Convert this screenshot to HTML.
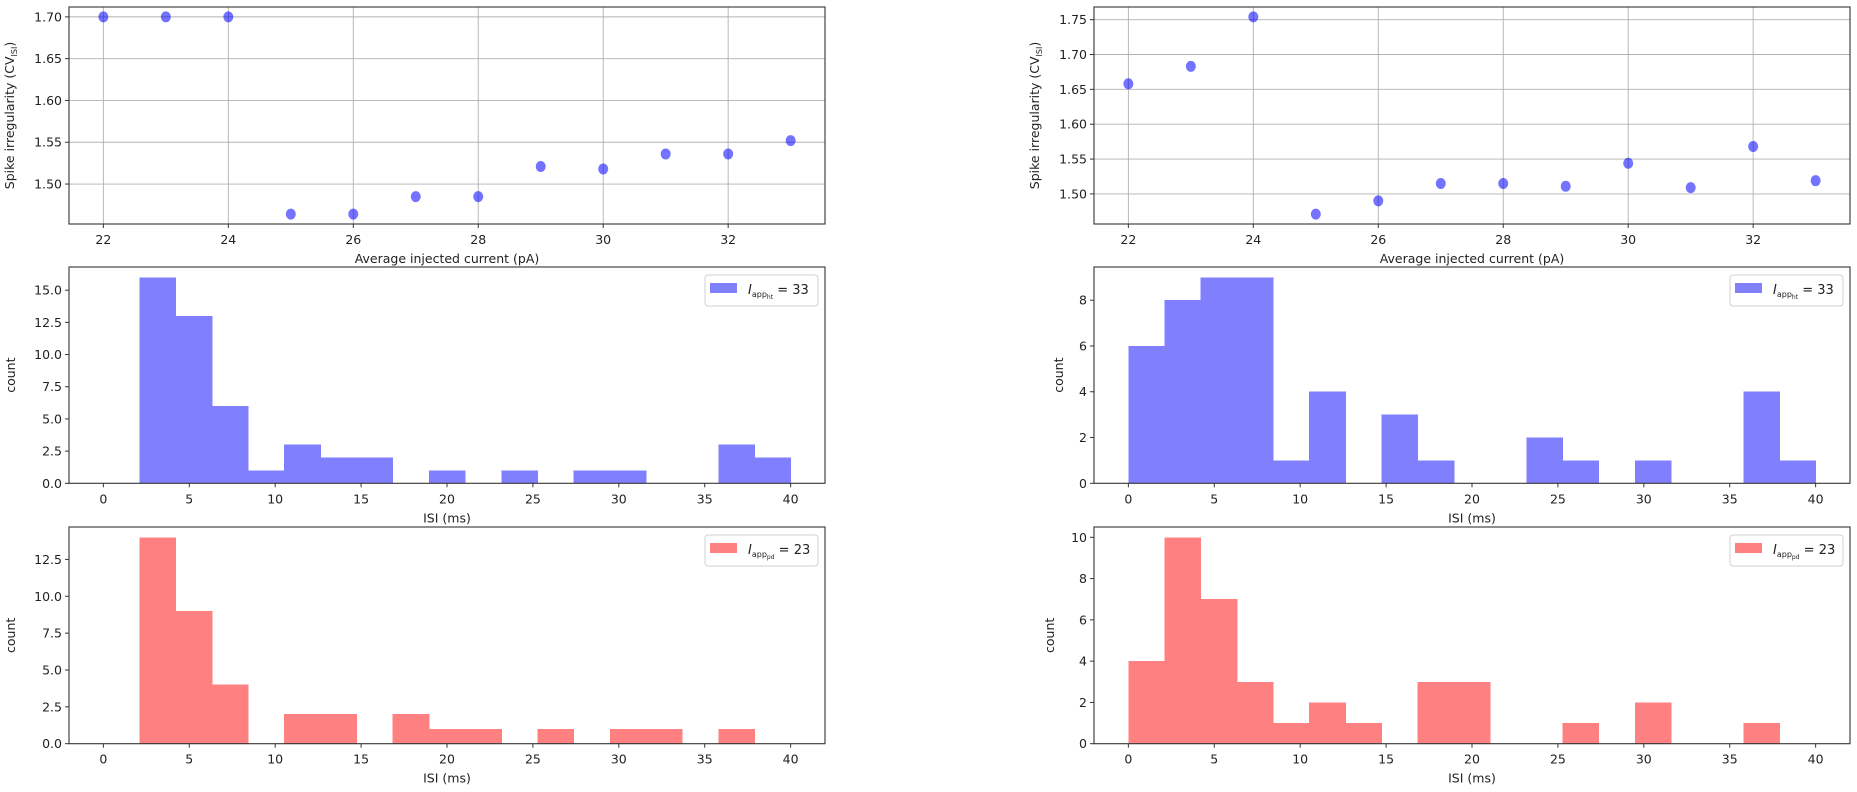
<!DOCTYPE html>
<html><head><meta charset="utf-8"><style>
html,body{margin:0;padding:0;background:#fff;}
svg{display:block;font-family:"DejaVu Sans","Liberation Sans",sans-serif;}
rect.bar{shape-rendering:crispEdges;}
</style></head><body>
<svg id="fig" width="1857" height="792" viewBox="0 0 1857 792" xmlns="http://www.w3.org/2000/svg"></svg>
<script>
const currents = [22,23,24,25,26,27,28,29,30,31,32,33];
const cvLeft = [1.70,1.70,1.70,1.464,1.464,1.485,1.485,1.521,1.518,1.536,1.536,1.552];
const cvRight = [1.658,1.683,1.754,1.471,1.490,1.515,1.515,1.511,1.544,1.509,1.568,1.519];
const histBlueLeft = [0,16,13,6,1,3,2,2,0,1,0,1,0,1,1,0,0,3,2];
const histRedLeft = [0,14,9,4,0,2,2,0,2,1,1,0,1,0,1,1,0,1,0];
const histBlueRight = [6,8,9,9,1,4,0,3,1,0,0,2,1,0,1,0,0,4,1];
const histRedRight = [4,10,7,3,1,2,1,0,3,3,0,0,1,0,2,0,0,1,0];
const binRange = [0,40];
const xTicksScatter = [22,24,26,28,30,32];
const yTicksLeftCV = [1.50,1.55,1.60,1.65,1.70];
const yTicksRightCV = [1.50,1.55,1.60,1.65,1.70,1.75];
const xTicksISI = [0,5,10,15,20,25,30,35,40];
const yTicksBL = [0,2.5,5,7.5,10,12.5,15];
const yTicksRL = [0,2.5,5,7.5,10,12.5];
const yTicksBR = [0,2,4,6,8];
const yTicksRR = [0,2,4,6,8,10];

const NS='http://www.w3.org/2000/svg';
const svg=document.getElementById('fig');
function mk(tag,attrs,parent){const e=document.createElementNS(NS,tag);for(const k in attrs)e.setAttribute(k,attrs[k]);(parent||svg).appendChild(e);return e;}

function axes(o){
  const g=mk('g',{});
  
  
  const sx=v=>o.x0+(v-o.xmin)/(o.xmax-o.xmin)*(o.x1-o.x0);
  const sy=v=>o.y1-(v-o.ymin)/(o.ymax-o.ymin)*(o.y1-o.y0);
  if(o.grid){
    o.xticks.forEach(t=>{const l=mk('line',{x1:sx(t),x2:sx(t),y1:o.y0,y2:o.y1,stroke:'#b0b0b0','stroke-width':0.9},g);});
    o.yticks.forEach(t=>{const l=mk('line',{x1:o.x0,x2:o.x1,y1:sy(t),y2:sy(t),stroke:'#b0b0b0','stroke-width':0.9},g);});
  }
  o.draw(g,sx,sy);
  const fr=mk('rect',{x:o.x0,y:o.y0,width:o.x1-o.x0,height:o.y1-o.y0,fill:'none',stroke:'#333','stroke-width':1.1},g);
  
  o.xticks.forEach(t=>{
    mk('line',{x1:sx(t),x2:sx(t),y1:o.y1,y2:o.y1+4,stroke:'#333'},g);
    const tx=mk('text',{x:sx(t),y:o.y1+20,'text-anchor':'middle','font-size':12.5,fill:'#222'},g);
    tx.textContent=t;
    
  });
  o.yticks.forEach(t=>{
    mk('line',{x1:o.x0-4,x2:o.x0,y1:sy(t),y2:sy(t),stroke:'#333'},g);
    const tx=mk('text',{x:o.x0-7,y:sy(t)+4.5,'text-anchor':'end','font-size':12.5,fill:'#222'},g);
    tx.textContent=o.fmt(t);
    
  });
  const xl=mk('text',{x:(o.x0+o.x1)/2,y:o.y1+39,'text-anchor':'middle','font-size':12.5,fill:'#222'},g);
  xl.textContent=o.xlabel;
  
  const yl=mk('text',{x:0,y:0,'text-anchor':'middle','font-size':12.5,fill:'#222',transform:`translate(${o.ylx},${(o.y0+o.y1)/2}) rotate(-90)`},g);
  if(o.cv){yl.innerHTML='Spike irregularity (CV<tspan font-size="8" dy="3">ISI</tspan><tspan dy="-3">)</tspan>';}
  else yl.textContent=o.ylabel;
  
  if(o.legend){
    const L=o.legend;
    const lg=mk('g',{},g);
    
    mk('rect',{x:o.x1-120,y:o.y0+8,width:113,height:31,rx:3,fill:'#fff',stroke:'#d0d0d0'},lg);
    mk('rect',{x:o.x1-115,y:o.y0+16,width:27,height:10,fill:L.color},lg);
    const t=mk('text',{x:o.x1-77,y:o.y0+27,'font-size':13,fill:'#222'},lg);
    t.innerHTML=`<tspan font-style="italic">I</tspan><tspan font-size="8" dy="3">app</tspan><tspan font-size="6" dy="2">${L.sub}</tspan><tspan dy="-5"> = ${L.val}</tspan>`;
    
  }
}

function scatterDraw(vals){
  return (g,sx,sy)=>{currents.forEach((c,i)=>{
    const p=mk('ellipse',{cx:sx(c),cy:sy(vals[i]),rx:5,ry:5.5,fill:'rgba(0,0,255,0.55)'},g);
    
  });};
}
function histDraw(counts,color){
  return (g,sx,sy)=>{const n=counts.length,w=(binRange[1]-binRange[0])/n;
    counts.forEach((c,i)=>{if(!c)return;
      const a=binRange[0]+i*w;
      const r=mk('rect',{class:'bar',x:sx(a),y:sy(c),width:sx(a+w)-sx(a)+0.5,height:sy(0)-sy(c),fill:color},g);
      
    });};
}
function lim(arr){const mn=Math.min(...arr),mx=Math.max(...arr),m=(mx-mn)*0.05;return [mn-m,mx+m];}
const f2=t=>t.toFixed(2), f1=t=>t.toFixed(1), f0=t=>String(t);
const LX=[69,825], RX=[1094,1850];
const R1=[7,224], R2=[267,483.3], R3=[527,743.7];
const xs=[21.45,33.55], xi=[-2,42];
let l=lim(cvLeft), r=lim(cvRight);

axes({name:'cv-scatter-left',x0:LX[0],x1:LX[1],y0:R1[0],y1:R1[1],xmin:xs[0],xmax:xs[1],ymin:l[0],ymax:l[1],xticks:xTicksScatter,yticks:yTicksLeftCV,fmt:f2,grid:true,cv:true,ylx:14,xlabel:'Average injected current (pA)',draw:scatterDraw(cvLeft)});
axes({name:'cv-scatter-right',x0:RX[0],x1:RX[1],y0:R1[0],y1:R1[1],xmin:xs[0],xmax:xs[1],ymin:r[0],ymax:r[1],xticks:xTicksScatter,yticks:yTicksRightCV,fmt:f2,grid:true,cv:true,ylx:1039,xlabel:'Average injected current (pA)',draw:scatterDraw(cvRight)});
axes({name:'isi-hist-blue-left',x0:LX[0],x1:LX[1],y0:R2[0],y1:R2[1],xmin:xi[0],xmax:xi[1],ymin:0,ymax:Math.max(...histBlueLeft)*1.05,xticks:xTicksISI,yticks:yTicksBL,fmt:f1,ylx:15,ylabel:'count',xlabel:'ISI (ms)',legend:{color:'#8080ff',sub:'ht',val:33},draw:histDraw(histBlueLeft,'#8080ff')});
axes({name:'isi-hist-blue-right',x0:RX[0],x1:RX[1],y0:R2[0],y1:R2[1],xmin:xi[0],xmax:xi[1],ymin:0,ymax:Math.max(...histBlueRight)*1.05,xticks:xTicksISI,yticks:yTicksBR,fmt:f0,ylx:1063,ylabel:'count',xlabel:'ISI (ms)',legend:{color:'#8080ff',sub:'ht',val:33},draw:histDraw(histBlueRight,'#8080ff')});
axes({name:'isi-hist-red-left',x0:LX[0],x1:LX[1],y0:R3[0],y1:R3[1],xmin:xi[0],xmax:xi[1],ymin:0,ymax:Math.max(...histRedLeft)*1.05,xticks:xTicksISI,yticks:yTicksRL,fmt:f1,ylx:15,ylabel:'count',xlabel:'ISI (ms)',legend:{color:'#ff8080',sub:'pd',val:23},draw:histDraw(histRedLeft,'#ff8080')});
axes({name:'isi-hist-red-right',x0:RX[0],x1:RX[1],y0:R3[0],y1:R3[1],xmin:xi[0],xmax:xi[1],ymin:0,ymax:Math.max(...histRedRight)*1.05,xticks:xTicksISI,yticks:yTicksRR,fmt:f0,ylx:1054,ylabel:'count',xlabel:'ISI (ms)',legend:{color:'#ff8080',sub:'pd',val:23},draw:histDraw(histRedRight,'#ff8080')});
</script>
</body></html>
